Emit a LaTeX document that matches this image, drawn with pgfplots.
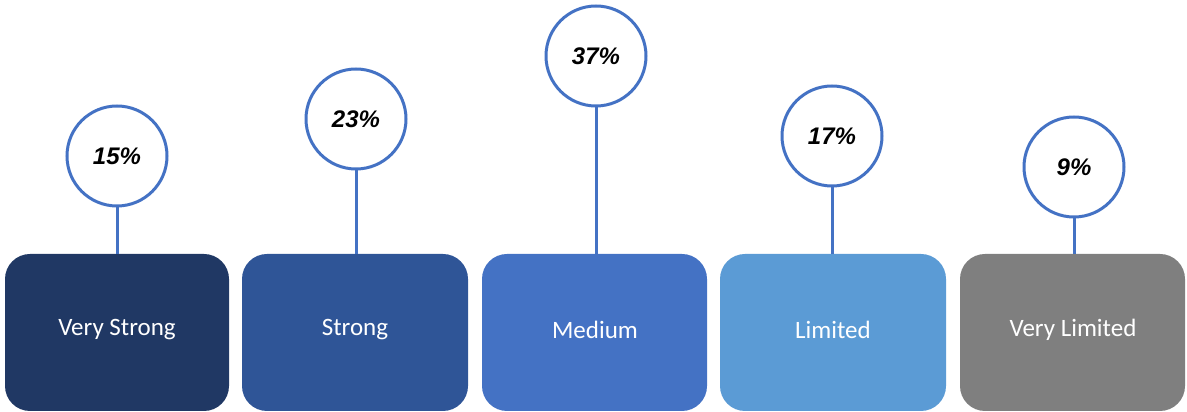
\documentclass[border=0pt]{standalone}
\usepackage{fontspec}
\setmainfont{Carlito}
\newfontfamily\arialfont{Liberation Sans}
\usepackage{pgfplots}
\pgfplotsset{compat=1.18}
\definecolor{cA}{HTML}{203864}
\definecolor{cB}{HTML}{2F5597}
\definecolor{cC}{HTML}{4472C4}
\definecolor{cD}{HTML}{5B9BD5}
\definecolor{cE}{HTML}{7F7F7F}
\definecolor{ring}{HTML}{4472C4}
\begin{document}
\begin{tikzpicture}
\begin{axis}[
  scale only axis, width=1187pt, height=412pt,
  xmin=0, xmax=1187, ymin=0, ymax=412,
  hide axis, clip=false,
]
\path (rel axis cs:0,0) rectangle (rel axis cs:1,1);
% boxes
\addplot[fill=cA, draw=none, rounded corners=25pt] coordinates {(5,1) (229,1) (229,158) (5,158)} -- cycle;
\addplot[fill=cB, draw=none, rounded corners=25pt] coordinates {(242,1) (468,1) (468,158) (242,158)} -- cycle;
\addplot[fill=cC, draw=none, rounded corners=25pt] coordinates {(482,1) (707,1) (707,158) (482,158)} -- cycle;
\addplot[fill=cD, draw=none, rounded corners=25pt] coordinates {(720,1) (946,1) (946,158) (720,158)} -- cycle;
\addplot[fill=cE, draw=none, rounded corners=25pt] coordinates {(960,1) (1185,1) (1185,158) (960,158)} -- cycle;
% box labels
\addplot[draw=none, nodes near coords, point meta=explicit symbolic,
  every node near coord/.style={anchor=center, text=white, font=\fontsize{25}{30}\selectfont}]
  coordinates {(117,82) [Very Strong] (355,82) [Strong] (595,82) [Medium] (833,82) [Limited] (1073,82) [Very Limited]};
% stems
\addplot[ring, line width=3pt] coordinates {(117,158) (117,255)};
\addplot[ring, line width=3pt] coordinates {(356,158) (356,292)};
\addplot[ring, line width=3pt] coordinates {(596,158) (596,356)};
\addplot[ring, line width=3pt] coordinates {(832,158) (832,276)};
\addplot[ring, line width=3pt] coordinates {(1074,158) (1074,245)};
% circles with values
\addplot[only marks, mark=*, mark size=50pt, mark options={fill=white, draw=ring, line width=3pt},
  nodes near coords, point meta=explicit symbolic,
  every node near coord/.style={anchor=center, text=black, font=\arialfont\bfseries\itshape\fontsize{24}{28}\selectfont}]
  coordinates {(117,256) [15\%] (356,293) [23\%] (596,356) [37\%] (832,276) [17\%] (1074,245) [9\%]};
\end{axis}
\end{tikzpicture}
\end{document}
